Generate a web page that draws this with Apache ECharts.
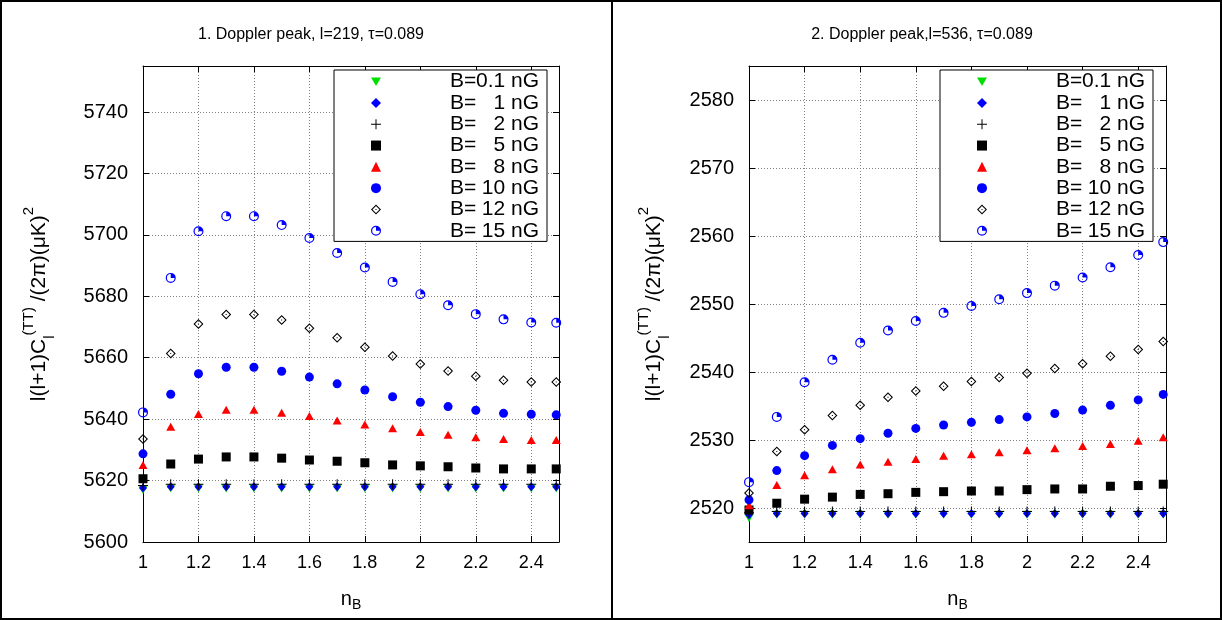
<!DOCTYPE html>
<html>
<head>
<meta charset="utf-8">
<script src="https://cdn.jsdelivr.net/npm/echarts@6.0.0/dist/echarts.min.js"></script>
<style>
  html, body { margin: 0; padding: 0; background: #fff; }
  #chart { width: 1222px; height: 620px; }
</style>
</head>
<body>
<div id="chart"></div>
<script>
// n_B values (x)
const nB = [1.0, 1.1, 1.2, 1.3, 1.4, 1.5, 1.6, 1.7, 1.8, 1.9, 2.0, 2.1, 2.2, 2.3, 2.4, 2.49]

const seriesNames = ['B=0.1 nG', 'B=   1 nG', 'B=   2 nG', 'B=   5 nG', 'B=   8 nG', 'B= 10 nG', 'B= 12 nG', 'B= 15 nG']

// 1. Doppler peak, l=219
const peak1_B01 = [5616.9, 5617.4, 5617.4, 5617.4, 5617.4, 5617.4, 5617.4, 5617.4, 5617.4, 5617.4, 5617.4, 5617.4, 5617.4, 5617.4, 5617.4, 5617.4]
const peak1_B1  = [5617.6, 5618.0, 5618.0, 5618.0, 5618.0, 5618.0, 5618.0, 5618.0, 5618.0, 5618.0, 5618.0, 5618.0, 5618.0, 5618.0, 5618.0, 5618.0]
const peak1_B2  = [5618.4, 5618.8, 5618.8, 5618.8, 5618.8, 5618.8, 5618.8, 5618.8, 5618.8, 5618.8, 5618.8, 5618.8, 5618.8, 5618.8, 5618.8, 5618.8]
const peak1_B5  = [5620.6, 5625.4, 5627.0, 5627.7, 5627.7, 5627.3, 5626.7, 5626.3, 5625.8, 5625.1, 5624.8, 5624.5, 5624.1, 5623.8, 5623.8, 5623.8]
const peak1_B8  = [5625.1, 5637.5, 5641.7, 5643.1, 5643.1, 5642.1, 5641.0, 5639.6, 5638.3, 5637.0, 5635.8, 5634.9, 5634.1, 5633.5, 5633.2, 5633.2]
const peak1_B10 = [5628.7, 5648.1, 5654.8, 5656.9, 5656.9, 5655.6, 5653.7, 5651.5, 5649.5, 5647.3, 5645.5, 5644.1, 5642.9, 5641.9, 5641.6, 5641.4]
const peak1_B12 = [5633.5, 5661.4, 5671.0, 5674.1, 5674.1, 5672.3, 5669.6, 5666.5, 5663.4, 5660.6, 5658.0, 5655.7, 5654.0, 5652.7, 5652.1, 5652.1]
const peak1_B15 = [5642.2, 5686.0, 5701.2, 5706.1, 5706.1, 5703.2, 5699.0, 5694.1, 5689.4, 5684.7, 5680.7, 5677.1, 5674.2, 5672.5, 5671.5, 5671.4]

// 2. Doppler peak, l=536
const peak2_B01 = [2518.5, 2519.0, 2519.0, 2519.0, 2519.0, 2519.0, 2519.0, 2519.0, 2519.0, 2519.0, 2519.0, 2519.0, 2519.0, 2519.0, 2519.0, 2519.0]
const peak2_B1  = [2519.0, 2519.2, 2519.2, 2519.2, 2519.2, 2519.2, 2519.2, 2519.2, 2519.2, 2519.2, 2519.2, 2519.2, 2519.2, 2519.2, 2519.2, 2519.2]
const peak2_B2  = [2519.3, 2519.5, 2519.5, 2519.5, 2519.5, 2519.5, 2519.5, 2519.5, 2519.5, 2519.5, 2519.5, 2519.5, 2519.5, 2519.5, 2519.5, 2519.5]
const peak2_B5  = [2519.7, 2520.7, 2521.3, 2521.6, 2522.0, 2522.1, 2522.3, 2522.4, 2522.5, 2522.5, 2522.7, 2522.8, 2522.8, 2523.2, 2523.3, 2523.5]
const peak2_B8  = [2520.4, 2523.4, 2524.8, 2525.7, 2526.4, 2526.8, 2527.2, 2527.7, 2527.9, 2528.2, 2528.5, 2528.8, 2529.1, 2529.4, 2529.9, 2530.4]
const peak2_B10 = [2521.2, 2525.5, 2527.7, 2529.2, 2530.2, 2531.0, 2531.7, 2532.2, 2532.6, 2533.0, 2533.4, 2533.9, 2534.4, 2535.1, 2535.9, 2536.7]
const peak2_B12 = [2522.2, 2528.3, 2531.5, 2533.6, 2535.1, 2536.3, 2537.2, 2537.9, 2538.6, 2539.2, 2539.8, 2540.5, 2541.2, 2542.3, 2543.3, 2544.5]
const peak2_B15 = [2523.8, 2533.4, 2538.5, 2541.8, 2544.3, 2546.1, 2547.5, 2548.7, 2549.7, 2550.7, 2551.6, 2552.7, 2553.9, 2555.4, 2557.2, 2559.1]

const peak1 = [peak1_B01, peak1_B1, peak1_B2, peak1_B5, peak1_B8, peak1_B10, peak1_B12, peak1_B15]
const peak2 = [peak2_B01, peak2_B1, peak2_B2, peak2_B5, peak2_B8, peak2_B10, peak2_B12, peak2_B15]

const FONT = 'Liberation Sans'

// gnuplot-like point types
const triDownPath = 'path://M0 0L20 0L10 17Z'
const plusPath = 'path://M9 0L11 0L11 20L9 20ZM0 9L20 9L20 11L0 11Z'
const openDiamondPath = 'path://M10 0L20 10L10 20L0 10ZM10 3L3 10L10 17L17 10ZM9 9L11 9L11 11L9 11Z'
const pieCirclePath = 'path://M10 0A10 10 0 1 1 10 20A10 10 0 1 1 10 0ZM10 2.4A7.6 7.6 0 1 0 10 17.6A7.6 7.6 0 1 0 10 2.4ZM10 10L10 2.4A7.6 7.6 0 0 1 17.6 10Z'

const markers = [
  {symbol: triDownPath, size: [9, 8], color: '#00e000'},
  {symbol: 'diamond', size: [8, 9], color: '#0000ff'},
  {symbol: plusPath, size: 10, color: '#000000'},
  {symbol: 'rect', size: 9, color: '#000000'},
  {symbol: 'triangle', size: [9, 8], color: '#ff0000'},
  {symbol: 'circle', size: 9, color: '#0000ff'},
  {symbol: openDiamondPath, size: 10, color: '#000000'},
  {symbol: pieCirclePath, size: 10, color: '#0000ff'}
]

function makeSeries(values, panel) {
  return values.map(function (ys, i) {
    return {
      name: seriesNames[i],
      type: 'scatter',
      xAxisIndex: panel * 2,
      yAxisIndex: panel * 2,
      symbol: markers[i].symbol,
      symbolSize: markers[i].size,
      itemStyle: {color: markers[i].color, opacity: 1},
      emphasis: {disabled: true},
      data: ys.map(function (y, k) { return [nB[k], y] })
    }
  })
}

const yName = '{b|l(l+1)C}{sub|l}{sup|(TT)}{b| /(2π)(μK)}{sup|2}'
const yNameStyle = {
  color: '#000',
  rich: {
    b: {fontFamily: FONT, fontSize: 21, lineHeight: 36, color: '#000'},
    sub: {fontFamily: FONT, fontSize: 15, verticalAlign: 'bottom', color: '#000'},
    sup: {fontFamily: FONT, fontSize: 15, verticalAlign: 'top', color: '#000'}
  }
}

const splitStyle = {show: true, showMinLine: false, showMaxLine: false, lineStyle: {color: '#808080', type: [1, 2], width: 1}}
const blackLine = {show: true, onZero: false, lineStyle: {color: '#000', width: 1}}

function xAxes(grid) {
  return [{
    type: 'value', gridIndex: grid, position: 'bottom',
    min: 1, max: 2.5, interval: 0.2,
    name: '{n|n}{sub|B}', nameLocation: 'middle', nameGap: 44,
    nameTextStyle: {rich: {
      n: {fontFamily: FONT, fontSize: 20, lineHeight: 26, color: '#000'},
      sub: {fontFamily: FONT, fontSize: 14, verticalAlign: 'bottom', color: '#000'}
    }},
    axisLine: blackLine,
    axisTick: {show: true, inside: true, length: 6, lineStyle: {color: '#000'}},
    axisLabel: {fontFamily: FONT, fontSize: 18, color: '#000', margin: 12, showMaxLabel: false},
    splitLine: splitStyle
  }, {
    type: 'value', gridIndex: grid, position: 'top',
    min: 1, max: 2.5, interval: 0.2,
    axisLine: blackLine,
    axisTick: {show: true, inside: true, length: 6, lineStyle: {color: '#000'}},
    axisLabel: {show: false},
    splitLine: {show: false}
  }]
}

function yAxes(grid, min, max, interval, nameGap) {
  let main = {
    type: 'value', gridIndex: grid, position: 'left',
    min: min, max: max,
    name: yName, nameLocation: 'middle', nameRotate: 90, nameGap: nameGap,
    nameTextStyle: yNameStyle,
    axisLine: blackLine,
    axisTick: {show: true, inside: true, length: 6, lineStyle: {color: '#000'}},
    axisLabel: {
      fontFamily: FONT, fontSize: 20, color: '#000', margin: 15,
      showMinLabel: min % interval === 0, showMaxLabel: false,
      formatter: function (v) { return String(v) }
    },
    splitLine: splitStyle
  }
  let mirror = {
    type: 'value', gridIndex: grid, position: 'right',
    min: min, max: max,
    axisLine: blackLine,
    axisTick: {show: true, inside: true, length: 6, lineStyle: {color: '#000'}},
    axisLabel: {show: false},
    splitLine: {show: false}
  }
  if (min % interval === 0) {
    main.interval = interval
    mirror.interval = interval
  } else {
    main.splitNumber = (max - min) / interval
    mirror.splitNumber = (max - min) / interval
  }
  return [main, mirror]
}

function makeLegend(left) {
  return {
    orient: 'vertical', left: left, top: 70, align: 'left',
    data: seriesNames, selectedMode: false,
    backgroundColor: '#fff', borderColor: '#000', borderWidth: 1, borderRadius: 0,
    padding: [1, 8, 0, 37], itemGap: 0, itemWidth: 10, itemHeight: 10,
    formatter: function (name) {
      return '{a|B=}{b|' + name.slice(2, -3).trim() + ' nG}'
    },
    textStyle: {
      fontFamily: FONT, fontSize: 21, lineHeight: 21.3, color: '#000', padding: [0, 0, 0, 64],
      rich: {
        a: {fontFamily: FONT, fontSize: 21, lineHeight: 21.3, width: 26, color: '#000'},
        b: {fontFamily: FONT, fontSize: 21, lineHeight: 21.3, width: 63, align: 'right', color: '#000'}
      }
    }
  }
}

let chart = echarts.init(document.getElementById('chart'), null, {renderer: 'canvas'})

let option = {
  backgroundColor: '#fff',
  animation: false,
  title: [{
    text: '1. Doppler peak, l=219, τ=0.089',
    left: 306, top: 22, textAlign: 'center',
    textStyle: {fontFamily: FONT, fontSize: 16, fontWeight: 'normal', color: '#000'}
  }, {
    text: '2. Doppler peak,l=536, τ=0.089',
    left: 917, top: 22, textAlign: 'center',
    textStyle: {fontFamily: FONT, fontSize: 16, fontWeight: 'normal', color: '#000'}
  }],
  legend: [makeLegend(334), makeLegend(940)],
  grid: [
    {left: 143, top: 66, width: 416, height: 476},
    {left: 749, top: 66, width: 417, height: 476}
  ],
  xAxis: xAxes(0).concat(xAxes(1)),
  yAxis: yAxes(0, 5600, 5755, 20, 86).concat(yAxes(1, 2515, 2585, 10, 77)),
  series: makeSeries(peak1, 0).concat(makeSeries(peak2, 1)),
  graphic: [{
    type: 'rect', silent: true,
    shape: {x: 1, y: 1, width: 1220, height: 618},
    style: {fill: 'none', stroke: '#000', lineWidth: 2}
  }, {
    type: 'line', silent: true,
    shape: {x1: 612, y1: 0, x2: 612, y2: 620},
    style: {stroke: '#000', lineWidth: 2}
  }]
}

chart.setOption(option)
</script>
</body>
</html>
